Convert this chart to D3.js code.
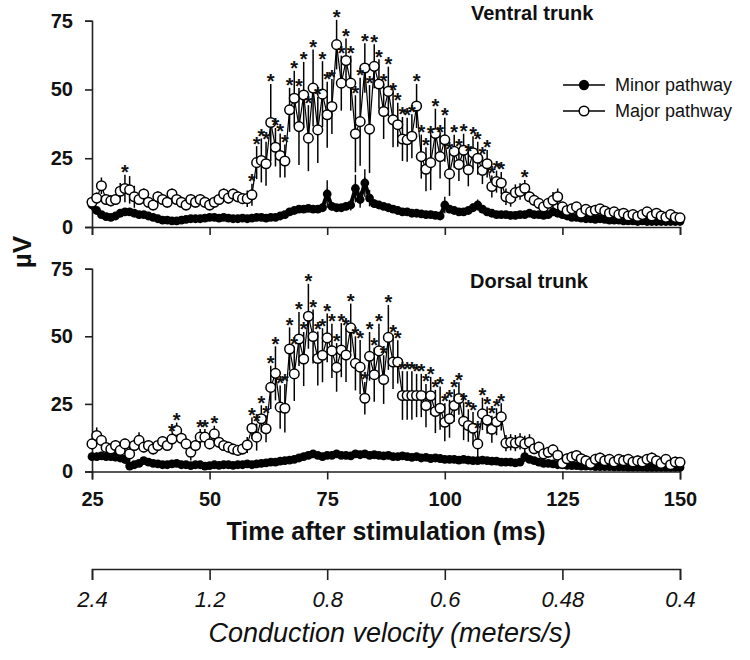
<!DOCTYPE html>
<html><head><meta charset="utf-8">
<script src="https://cdn.jsdelivr.net/npm/d3@7"></script>
<style>
html,body{margin:0;padding:0;background:#fff;}
svg{display:block;font-family:"Liberation Sans",Arial,sans-serif;}
</style></head>
<body><svg id="chart" width="750" height="660"></svg>
<script>
// ---------------- DATA ----------------
const time = d3.range(25, 151, 1); // ms, one sample per ms

const ventralMajor = [9,10.5,15,10,9.5,10,13,14,13.5,11,10,12,9,8,11,10,9,12,10,9,8,10,9,10,9,8,9,10,12,10.5,12,11,10.3,10.3,11.7,23.4,24.2,23,38,29,26,24,42.6,46.8,36.5,48,32.3,50.5,35.3,48.3,40.8,43.8,66.3,52.3,60.5,52.3,33.9,38.3,57.8,35.6,58.4,52,42,49.3,39,37.2,32,31.7,33,44,25.6,21,23.4,34,25.6,31.7,19.3,27.5,22.7,27.9,20.8,27,25,20.6,23,14.7,16.5,16,11,10.4,12.5,12.9,14.1,11,9.7,8.6,7.3,8.6,9.7,11,7.3,6,6.6,7.3,5,6.4,5.6,6.1,6.6,5.8,5,5.5,4.5,5,4,4.5,3.8,4.5,5.5,4,5,4,3.5,4.5,3.5,3.3];
const ventralMajorErr = [2,2,3,2,2,2,3,5,5,4,2,2,2,2,2,2,2,2,2,2,2,2,2,2,2,2,2,2,2,2,2,2,2,3,4,6,8,8,14,7,8,6,8,10,14,12,12,14,12,12,12,10,9,10,8,10,14,16,9,16,8,9,10,9,10,8,8,8,8,8,8,8,10,9,8,8,8,6,6,6,6,6,6,5,5,4,4,4,3,3,3,3,3,2,2,2,2,2,3,3,1.5,1.5,1.5,1.5,1.5,1.5,1.5,1.5,1.5,1.5,1.5,1.5,1.5,1.5,1.5,1.5,1.5,1.5,1.5,1.5,1.5,1.5,1.5,1.5,1.5,1.5];
const ventralMinor = [8,6,4.5,3.8,3.5,4,5,5.5,5.5,5,4.5,4.5,4,3.5,3,2.5,2.5,2.2,2.2,2.5,2.8,3,3,3,3.2,3.5,3.5,3.2,3.5,3.2,3,3,3.2,3,3.2,3.5,3.5,3.2,3.5,3.5,4,4.5,5.5,6,6.5,6.5,6.8,6.5,6.5,7,12,7.5,7,7,7.5,8,14,10,16,10.5,8.5,8,7.5,7,6.5,6,5.5,5.5,5,5,4.8,4.5,4.5,4.2,4,8,6.5,6,5.5,5.5,6,7,8,6.5,5.5,5,4.5,4.5,4.5,4.2,4.2,4.5,4.5,5,4.5,4.5,4.2,4.5,5.5,5,4.5,4,3.5,3.5,3.2,3,3,2.8,3,2.8,2.5,2.5,2.5,2.2,2.2,2.2,2,2.2,2,2,2,2,2,2,2,2];
const ventralMinorErr = [2,1,1,1,1,1,1,1,1,1,1,1,1,1,1,1,1,1,1,1,1,1,1,1,1,1,1,1,1,1,1,1,1,1,1,1,1,1,1,1,1,1,1,1,1,1,1,1,1,1,5,1.5,1,1,1.5,2,5,3,5,3,1.5,1,1,1,1,1,1,1,1,1,1,1,1,1,1,3,1.5,1,1,1,1,1.5,2,1.5,1,1,1,1,1,1,1,1,1,1,1,1,1,1,1.5,1,1,1,1,1,1,1,1,1,1,1,1,1,1,1,1,1,1,1,1,1,1,1,1,1,1,1];
const ventralSig = [32].concat(d3.range(59, 113)).concat([117]);

const dorsalMajor = [10.2,13.3,11.5,8.9,8.3,9.6,7.8,10.2,6.5,9.6,11.5,9,9.6,8.3,9.6,11.1,9.6,12,15.1,12.3,10.2,7.1,9.6,12.7,12.7,10.2,13.9,10.8,9.6,9,8.3,7.8,8.3,9.8,16,12.7,19.5,15.8,31.1,36.3,23.8,23.4,45.3,36.1,49,41.6,57.4,49.9,41.8,43,49.4,44.6,38.5,44.9,43.1,53.1,40,38.6,27.1,42.6,35.8,44.6,34,49.6,40.5,40.5,28.1,28.1,28.1,28.1,28.1,24.4,28,22.2,23.4,18.2,19.5,24.4,27,18.6,17,16,10.2,21.3,19,15.6,18.4,20.2,10.5,10.8,10.5,11.1,10.2,10.8,8.4,9,6.5,7.1,8,6,3,4.7,5.3,5.9,4.7,4,3,4.5,5,4,4.5,3.5,4.5,4,4.5,3.5,4,3.5,4.5,5,4,3,4.5,2.5,3.5,3.4];
const dorsalMajorErr = [2,3,2,2,2,2,2,2,3,2,3,2,2,2,2,2,2,2,3,2,2,3,2,3,3,2,3,2,2,2,2,2,2,3,4,5,5,5,8,10,8,9,8,10,10,10,12,10,10,10,9,10,9,10,10,9,10,10,6,9,10,10,9,12,10,8,9,9,9,8,8,8,7,8,8,7,7,6,6,7,6,6,5,6,5,5,5,5,3,3,3,3,3,3,2,2,2,2,2,2,2,2,2,2,2,2,2,2,2,2,2,2,2,2,2,2,2,2,2,2,2,2,2,2,2,2];
const dorsalMinor = [5.5,5.5,5.8,5.5,5.5,5.3,5,4.5,2,2.5,3,4,3.5,3,2.8,2.5,2.5,2.8,3,2.5,2.5,2.2,2.5,2.5,2,2.2,2.5,2.3,2.5,2.5,2.3,2.5,2.5,2.8,2.5,2.8,3,3.2,3.5,3.5,3.8,4,4.2,4.5,5,5.5,6,6.5,6,5.5,6,6,6.5,6,6,5.8,6.5,6.2,6.5,6,6.2,6,5.8,6,5.5,5.5,5.8,5.5,5.2,5.5,5,5.2,4.8,5,4.8,4.5,4.5,4.5,4.2,4.5,4.2,4,4,4.2,4,3.8,3.8,3.5,3.5,3.5,3.2,3.5,5.5,4.5,4,3.5,3,3,2.8,2.5,2.5,2.3,2.2,2.2,2,2,2,1.8,1.8,1.8,1.8,1.7,1.7,1.7,1.6,1.6,1.6,1.6,1.5,1.5,1.5,1.5,1.5,1.5,1.5,1.5];
const dorsalMinorErr = [1.5,1.5,1.5,1.5,1.5,1.5,1.5,1.5,1,1,1,1,1,1,1,1,1,1,1,1,1,1,1,1,1,1,1,1,1,1,1,1,1,1,1,1,1,1,1,1,1,1,1,1,1,1,1,1,1,1,1,1,1,1,1,1,1,1,1,1,1,1,1,1,1,1,1,1,1,1,1,1,1,1,1,1,1,1,1,1,1,1,1,1,1,1,1,1,1,1,1,1,2,1,1,1,1,1,1,1,1,1,1,1,1,1,1,1,1,1,1,1,1,1,1,1,1,1,1,1,1,1,1,1,1,1];
const dorsalSig = [42, 43, 48, 49, 51].concat(d3.range(59, 113));

const timeTicks = [25, 50, 75, 100, 125, 150];
const yTicks = [0, 25, 50, 75];
const velocityTicks = [2.4, 1.2, 0.8, 0.6, 0.48, 0.4];
const velocityLabels = ["2.4", "1.2", "0.8", "0.6", "0.48", "0.4"];
const panelTitles = ["Ventral trunk", "Dorsal trunk"];
const legendLabels = ["Minor pathway", "Major pathway"];

// ---------------- DRAW ----------------
const svg = d3.select("#chart");
const FONT = '"Liberation Sans", Arial, sans-serif';
const x = d3.scaleLinear().domain([25, 150]).range([92, 680]);

const panels = [
  {title: panelTitles[0], major: ventralMajor, majorErr: ventralMajorErr, minor: ventralMinor, minorErr: ventralMinorErr, sig: ventralSig,
   y: d3.scaleLinear().domain([0, 75]).range([227, 20.7]), tickLabels: false, titlePos: [471, 20]},
  {title: panelTitles[1], major: dorsalMajor, majorErr: dorsalMajorErr, minor: dorsalMinor, minorErr: dorsalMinorErr, sig: dorsalSig,
   y: d3.scaleLinear().domain([0, 75]).range([471.5, 268.7]), tickLabels: true, titlePos: [470, 288]}
];

function styleAxis(g) {
  g.selectAll("path.domain").attr("stroke", "#222").attr("stroke-width", 1.6);
  g.selectAll(".tick line").attr("stroke", "#222").attr("stroke-width", 1.6);
}

panels.forEach(p => {
  const y = p.y;
  const g = svg.append("g");
  const ya = g.append("g").attr("transform", "translate(92,0)")
    .call(d3.axisLeft(y).tickValues(yTicks).tickSize(7).tickPadding(12));
  styleAxis(ya);
  ya.selectAll("text").attr("font-family", FONT).attr("font-size", 20).attr("font-weight", "bold").attr("fill", "#111");
  const xa = g.append("g").attr("transform", `translate(0,${y(0)})`)
    .call(d3.axisBottom(x).tickValues(timeTicks).tickSize(8).tickPadding(12));
  styleAxis(xa);
  if (p.tickLabels) {
    xa.selectAll("text").attr("font-family", FONT).attr("font-size", 20).attr("font-weight", "bold").attr("fill", "#111");
  } else {
    xa.selectAll("text").remove();
  }

  const pts = time.map((t, i) => ({t, major: p.major[i], majorErr: p.majorErr[i], minor: p.minor[i], minorErr: p.minorErr[i]}));

  // minor pathway (filled)
  g.append("path").datum(pts)
    .attr("d", d3.line().x(d => x(d.t)).y(d => y(d.minor)))
    .attr("fill", "none").attr("stroke", "#000").attr("stroke-width", 4);
  g.append("g").selectAll("line").data(pts).join("line")
    .attr("x1", d => x(d.t)).attr("x2", d => x(d.t))
    .attr("y1", d => y(d.minor - d.minorErr)).attr("y2", d => y(d.minor + d.minorErr))
    .attr("stroke", "#000").attr("stroke-width", 1.4);
  g.append("g").selectAll("circle").data(pts).join("circle")
    .attr("cx", d => x(d.t)).attr("cy", d => y(d.minor)).attr("r", 4.4)
    .attr("fill", "#000");

  // major pathway (open)
  g.append("path").datum(pts)
    .attr("d", d3.line().x(d => x(d.t)).y(d => y(d.major)))
    .attr("fill", "none").attr("stroke", "#000").attr("stroke-width", 1.2);
  g.append("g").selectAll("line").data(pts).join("line")
    .attr("x1", d => x(d.t)).attr("x2", d => x(d.t))
    .attr("y1", d => y(Math.max(0, d.major - d.majorErr))).attr("y2", d => y(d.major + d.majorErr))
    .attr("stroke", "#000").attr("stroke-width", 1.5);
  g.append("g").selectAll("circle").data(pts).join("circle")
    .attr("cx", d => x(d.t)).attr("cy", d => y(d.major)).attr("r", 4.8)
    .attr("fill", "#fff").attr("stroke", "#000").attr("stroke-width", 1.5);

  // significance stars
  const sigPts = pts.filter(d => p.sig.includes(d.t));
  g.append("g").selectAll("text").data(sigPts).join("text")
    .attr("x", d => x(d.t)).attr("y", d => y(d.major + d.majorErr) - 7 + 11.5)
    .attr("text-anchor", "middle").attr("font-family", FONT).attr("font-size", 20).attr("font-weight", "bold")
    .attr("fill", "#111").text("*");

  g.append("text").attr("x", p.titlePos[0]).attr("y", p.titlePos[1])
    .attr("font-family", FONT).attr("font-size", 20).attr("font-weight", "bold").attr("fill", "#111")
    .text(p.title);
});

// legend
const legend = svg.append("g");
legendLabels.forEach((lab, i) => {
  const ly = 85 + i * 26;
  legend.append("line").attr("x1", 563).attr("x2", 605).attr("y1", ly).attr("y2", ly)
    .attr("stroke", "#000").attr("stroke-width", 1.6);
  legend.append("circle").attr("cx", 584).attr("cy", ly).attr("r", i === 0 ? 4.4 : 4.8)
    .attr("fill", i === 0 ? "#000" : "#fff").attr("stroke", "#000").attr("stroke-width", 1.5);
  legend.append("text").attr("x", 615).attr("y", ly + 6)
    .attr("font-family", FONT).attr("font-size", 18).attr("fill", "#111").text(lab);
});

// axis titles
svg.append("text").attr("x", 386).attr("y", 540).attr("text-anchor", "middle")
  .attr("font-family", FONT).attr("font-size", 25).attr("font-weight", "bold").attr("fill", "#111")
  .text("Time after stimulation (ms)");
svg.append("text").attr("transform", "translate(31,252) rotate(-90)").attr("text-anchor", "middle")
  .attr("font-family", FONT).attr("font-size", 26).attr("font-weight", "bold").attr("fill", "#111")
  .text("µV");

// conduction velocity axis (velocity = 60 mm / time)
const invV = d3.scaleLinear().domain([1 / 2.4, 1 / 0.4]).range([92, 680]);
const va = svg.append("g").attr("transform", "translate(0,569)")
  .call(d3.axisBottom(invV).tickValues(velocityTicks.map(v => 1 / v))
    .tickFormat((d, i) => velocityLabels[i]).tickSize(11).tickPadding(11));
styleAxis(va);
va.selectAll("text").attr("font-family", FONT).attr("font-size", 22).attr("font-style", "italic").attr("fill", "#111");
svg.append("text").attr("x", 390).attr("y", 642).attr("text-anchor", "middle")
  .attr("font-family", FONT).attr("font-size", 27).attr("font-style", "italic").attr("fill", "#111")
  .text("Conduction velocity (meters/s)");
</script></body></html>
